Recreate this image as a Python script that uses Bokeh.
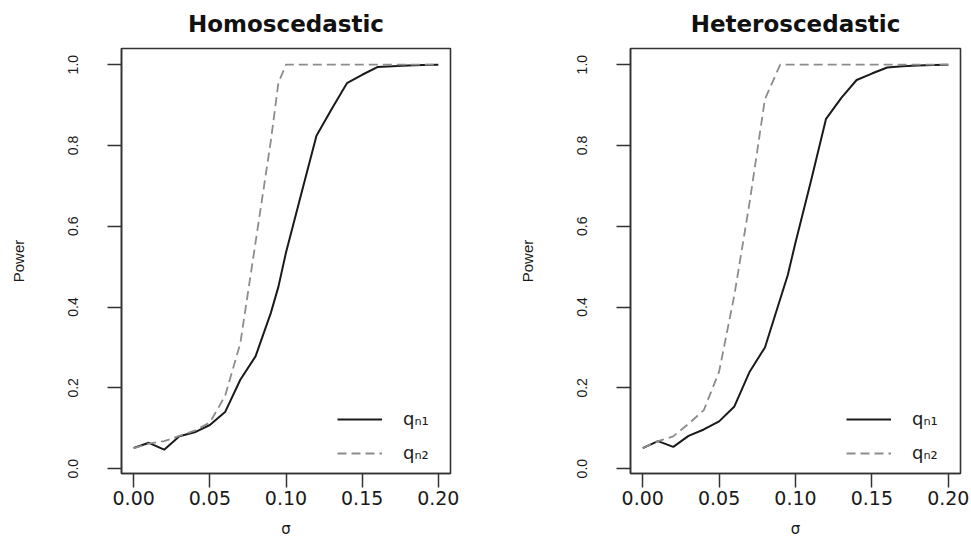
from bokeh.plotting import figure
from bokeh.layouts import row
from bokeh.models import (Range1d, FixedTicker, PrintfTickFormatter, Legend, LegendItem,
                          ColumnDataSource, Title)
from bokeh.embed import file_html
from bokeh.resources import INLINE

# ---- data ----
sigma = [0.00, 0.01, 0.02, 0.03, 0.04, 0.05, 0.06, 0.07, 0.08, 0.09, 0.095,
         0.10, 0.11, 0.12, 0.13, 0.14, 0.15, 0.16, 0.17, 0.18, 0.19, 0.20]

homo_qn1 = [0.051, 0.064, 0.047, 0.080, 0.090, 0.108, 0.140, 0.220, 0.278, 0.385, 0.450,
            0.535, 0.680, 0.824, 0.890, 0.954, 0.975, 0.994, 0.996, 0.998, 0.999, 1.000]
homo_qn2 = [0.051, 0.062, 0.068, 0.081, 0.094, 0.114, 0.180, 0.310, 0.560, 0.810, 0.955,
            1.000, 1.000, 1.000, 1.000, 1.000, 1.000, 1.000, 1.000, 1.000, 1.000, 1.000]
hetero_qn1 = [0.051, 0.068, 0.054, 0.081, 0.097, 0.117, 0.154, 0.240, 0.300, 0.420, 0.480,
              0.560, 0.710, 0.866, 0.918, 0.962, 0.978, 0.993, 0.996, 0.998, 0.999, 1.000]
hetero_qn2 = [0.051, 0.068, 0.080, 0.111, 0.145, 0.240, 0.430, 0.660, 0.915, 1.000, 1.000,
              1.000, 1.000, 1.000, 1.000, 1.000, 1.000, 1.000, 1.000, 1.000, 1.000, 1.000]

titles = ["Homoscedastic", "Heteroscedastic"]
series_labels = ["q\u2099\u2081", "q\u2099\u2082"]
x_ticks = [0.00, 0.05, 0.10, 0.15, 0.20]
y_ticks = [0.0, 0.2, 0.4, 0.6, 0.8, 1.0]
x_label = "\u03c3"
y_label = "Power"

X_MIN, X_MAX = -0.008, 0.208
Y_MIN, Y_MAX = -0.012, 1.04

SOLID = "#1a1a1a"
DASHED = "#8c8c8c"
TEXT = "#1a1a1a"


def make_panel(title, s1, s2, width, border_left, border_right):
    p = figure(width=width, height=542, output_backend="svg", toolbar_location=None,
               title=None,
               x_range=Range1d(X_MIN, X_MAX), y_range=Range1d(Y_MIN, Y_MAX),
               min_border_left=border_left, min_border_right=border_right,
               min_border_top=48, min_border_bottom=69,
               background_fill_color="white", border_fill_color="white")

    p.add_layout(Title(text=title, align="center", vertical_align="top", standoff=20,
                       text_font="DejaVu Sans", text_font_style="bold",
                       text_font_size="23px", text_color="#111111"), "above")

    p.outline_line_color = "#333333"
    p.outline_line_width = 1.6
    p.xgrid.visible = False
    p.ygrid.visible = False

    src = ColumnDataSource(dict(x=sigma, a=s1, b=s2))
    r1 = p.line("x", "a", source=src, line_color=SOLID, line_width=2)
    r2 = p.line("x", "b", source=src, line_color=DASHED, line_width=1.8, line_dash="9 5")

    xa = p.xaxis[0]
    xa.ticker = FixedTicker(ticks=x_ticks)
    xa.formatter = PrintfTickFormatter(format="%.2f")
    xa.minor_tick_line_color = None
    xa.major_tick_in = 0
    xa.major_tick_out = 14
    xa.major_tick_line_color = "#333333"
    xa.major_tick_line_width = 1.5
    xa.axis_line_color = "#333333"
    xa.axis_line_width = 1.5
    xa.major_label_text_font = "DejaVu Sans"
    xa.major_label_text_font_size = "19px"
    xa.major_label_text_color = TEXT
    xa.major_label_standoff = 3
    xa.axis_label = x_label
    xa.axis_label_text_font = "DejaVu Sans"
    xa.axis_label_text_font_style = "normal"
    xa.axis_label_text_font_size = "15px"
    xa.axis_label_text_color = TEXT
    xa.axis_label_standoff = 12

    ya = p.yaxis[0]
    ya.ticker = FixedTicker(ticks=y_ticks)
    ya.formatter = PrintfTickFormatter(format="%.1f")
    ya.minor_tick_line_color = None
    ya.major_tick_in = 0
    ya.major_tick_out = 14
    ya.major_tick_line_color = "#333333"
    ya.major_tick_line_width = 1.5
    ya.axis_line_color = "#333333"
    ya.axis_line_width = 1.5
    ya.major_label_orientation = "vertical"
    ya.major_label_text_font = "Liberation Sans"
    ya.major_label_text_font_size = "14px"
    ya.major_label_text_color = TEXT
    ya.major_label_standoff = 29
    ya.axis_label = y_label
    ya.axis_label_text_font = "Liberation Sans"
    ya.axis_label_text_font_style = "normal"
    ya.axis_label_text_font_size = "15px"
    ya.axis_label_text_color = TEXT
    ya.axis_label_standoff = 39

    legend = Legend(items=[LegendItem(label=series_labels[0], renderers=[r1]),
                           LegendItem(label=series_labels[1], renderers=[r2])],
                    location=(216, 10))
    legend.border_line_color = None
    legend.background_fill_alpha = 0
    legend.padding = 5
    legend.margin = 0
    legend.spacing = 13
    legend.glyph_width = 45
    legend.label_standoff = 21
    legend.label_text_font = "DejaVu Sans"
    legend.label_text_font_size = "18px"
    legend.label_text_color = TEXT
    p.add_layout(legend)
    return p


p1 = make_panel(titles[0], homo_qn1, homo_qn2, 493, 121, 43)
p2 = make_panel(titles[1], hetero_qn1, hetero_qn2, 476, 137, 9)

layout = row(p1, p2)
open("out.html", "w").write(file_html(layout, INLINE))
